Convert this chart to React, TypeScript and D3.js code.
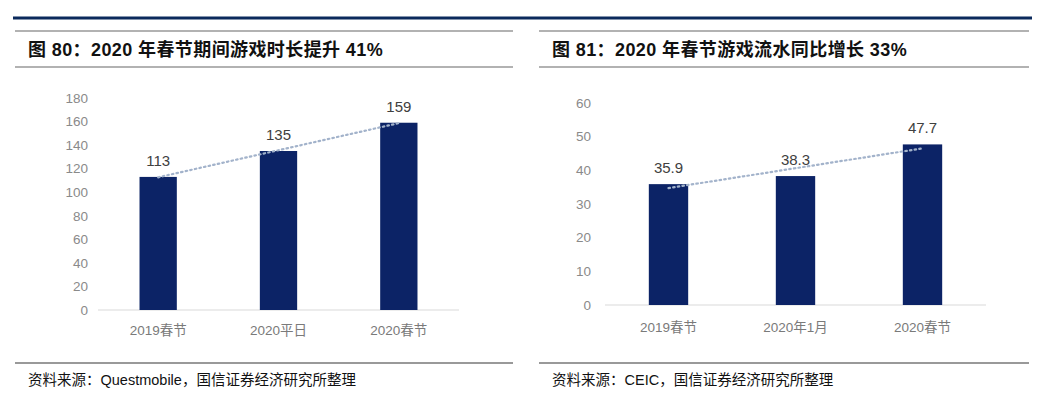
import React from "react";
import * as d3 from "d3";

const leftTitle = "图 80：2020 年春节期间游戏时长提升 41%";
const leftCategories = ["2019春节", "2020平日", "2020春节"];
const leftValues = [113, 135, 159];
const leftTicks = [0, 20, 40, 60, 80, 100, 120, 140, 160, 180];
const leftSource = "资料来源：Questmobile，国信证券经济研究所整理";

const rightTitle = "图 81：2020 年春节游戏流水同比增长 33%";
const rightCategories = ["2019春节", "2020年1月", "2020春节"];
const rightValues = [35.9, 38.3, 47.7];
const rightTicks = [0, 10, 20, 30, 40, 50, 60];
const rightSource = "资料来源：CEIC，国信证券经济研究所整理";

const NAVY = "#0c2366";
const FONT = "Arial, 'Liberation Sans', 'Noto Sans CJK SC', sans-serif";

type PanelProps = {
  x0: number;
  lineX1: number;
  lineX2: number;
  title: string;
  categories: string[];
  values: number[];
  ticks: number[];
  source: string;
  plotLeft: number;
  plotRight: number;
  yTop: number;
  yBottom: number;
  tickX: number;
  xLabelY: number;
};

function Panel(p: PanelProps) {
  const yMax = p.ticks[p.ticks.length - 1];
  const y = d3.scaleLinear().domain([0, yMax]).range([p.yBottom, p.yTop]);
  const x = d3
    .scaleBand<string>()
    .domain(p.categories)
    .range([p.plotLeft, p.plotRight])
    .paddingInner(0.69)
    .paddingOuter(0.345);
  // linear trend line (least squares) like Excel's trendline
  const xs = p.values.map((_, i) => i + 1);
  const mx = d3.mean(xs) as number;
  const my = d3.mean(p.values) as number;
  const slope =
    d3.sum(xs.map((xi, i) => (xi - mx) * (p.values[i] - my))) /
    d3.sum(xs.map((xi) => (xi - mx) * (xi - mx)));
  const icpt = my - slope * mx;
  const trendPts: [number, number][] = xs.map((xi, i) => [
    (x(p.categories[i]) as number) + x.bandwidth() / 2,
    y(icpt + slope * xi),
  ]);
  const line = d3.line();
  return (
    <g>
      <line x1={p.lineX1} x2={p.lineX2} y1={31} y2={31} stroke="#666" strokeWidth={1.2} />
      <text
        x={p.x0 + 28}
        y={56}
        fontFamily={FONT}
        fontWeight="bold"
        fontSize={18}
        letterSpacing={0.4}
        fill="#111"
      >
        {p.title}
      </text>
      <line x1={p.lineX1} x2={p.lineX2} y1={67} y2={67} stroke="#666" strokeWidth={1.2} />

      {p.ticks.map((t) => (
        <text
          key={t}
          x={p.tickX}
          y={y(t)}
          dy="0.35em"
          textAnchor="end"
          fontFamily={FONT}
          fontSize={13.5}
          fill="#8a8a8a"
        >
          {t}
        </text>
      ))}
      <line
        x1={p.plotLeft}
        x2={p.plotRight}
        y1={p.yBottom}
        y2={p.yBottom}
        stroke="#d9d9d9"
        strokeWidth={1.2}
      />
      {p.values.map((v, i) => (
        <rect
          key={i}
          x={x(p.categories[i])}
          y={y(v)}
          width={x.bandwidth()}
          height={p.yBottom - y(v)}
          fill={NAVY}
        />
      ))}
      <path
        d={line(trendPts) || ""}
        fill="none"
        stroke="#a3b3cb"
        strokeWidth={2.2}
        strokeDasharray="1.5,3.2"
        strokeLinecap="round"
      />
      {p.values.map((v, i) => (
        <text
          key={i}
          x={(x(p.categories[i]) as number) + x.bandwidth() / 2}
          y={y(v) - 11}
          textAnchor="middle"
          fontFamily={FONT}
          fontSize={15}
          fill="#404040"
        >
          {v}
        </text>
      ))}
      {p.categories.map((c) => (
        <text
          key={c}
          x={(x(c) as number) + x.bandwidth() / 2}
          y={p.xLabelY}
          dy="0.35em"
          textAnchor="middle"
          fontFamily={FONT}
          fontSize={13.5}
          fill="#7a7a7a"
        >
          {c}
        </text>
      ))}
      <line x1={p.lineX1} x2={p.lineX2} y1={363} y2={363} stroke="#777" strokeWidth={1.5} />
      <text
        x={p.x0 + 28}
        y={380}
        dy="0.35em"
        fontFamily={FONT}
        fontSize={14.5}
        fill="#111"
      >
        {p.source}
      </text>
    </g>
  );
}

export default function App() {
  return (
    <svg
      width={1048}
      height={397}
      style={{ position: "absolute", left: 0, top: 0, background: "#fff" }}
    >
      <rect width={1048} height={397} fill="#fff" />
      <line x1={13} x2={1032} y1={18} y2={18} stroke="#0b2a5c" strokeWidth={3} />
      <Panel
        x0={0}
        lineX1={15}
        lineX2={513}
        title={leftTitle}
        categories={leftCategories}
        values={leftValues}
        ticks={leftTicks}
        source={leftSource}
        plotLeft={98}
        plotRight={459}
        yTop={98}
        yBottom={310}
        tickX={88}
        xLabelY={330}
      />
      <Panel
        x0={524}
        lineX1={539}
        lineX2={1029}
        title={rightTitle}
        categories={rightCategories}
        values={rightValues}
        ticks={rightTicks}
        source={rightSource}
        plotLeft={605}
        plotRight={986}
        yTop={103}
        yBottom={305}
        tickX={591}
        xLabelY={327}
      />
    </svg>
  );
}
